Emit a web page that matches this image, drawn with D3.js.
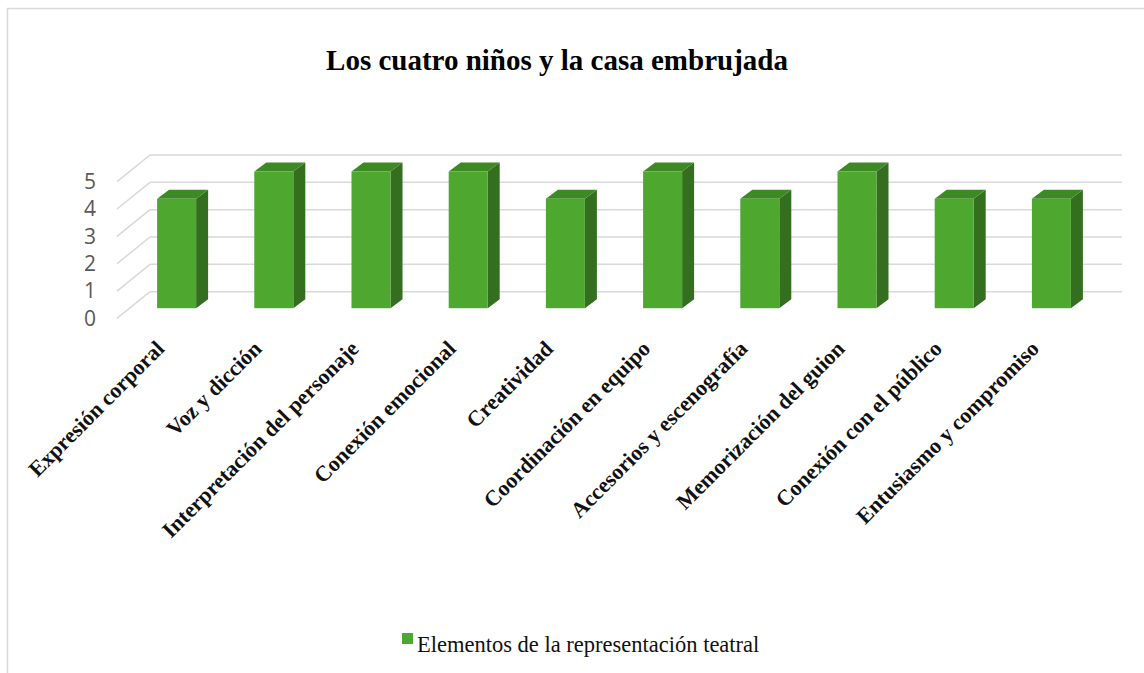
<!DOCTYPE html>
<html>
<head>
<meta charset="utf-8">
<script src="https://cdn.jsdelivr.net/npm/d3@7"></script>
<style>
  body { margin: 0; background: #fff; }
  svg { display: block; }
</style>
</head>
<body>
<svg id="chart"></svg>
<script>
const width = 1144, height = 673;

// Données
const titre = "Los cuatro niños y la casa embrujada";
const serie = "Elementos de la representación teatral";
const categories = [
    "Expresión corporal", "Voz y dicción", "Interpretación del personaje",
    "Conexión emocional", "Creatividad", "Coordinación en equipo",
    "Accesorios y escenografía", "Memorización del guion",
    "Conexión con el público", "Entusiasmo y compromiso"
];
const valeurs = [4, 5, 5, 5, 4, 5, 4, 5, 4, 4];
const ticks = [0, 1, 2, 3, 4, 5];

// Couleurs
const vert = "#4ea72e", vertCote = "#336f1e", vertHaut = "#3d8a25";
const grille = "#d9d9d9";

const svg = d3.select("#chart")
    .attr("width", width)
    .attr("height", height);

// cadre
svg.append("rect")
    .attr("x", 7.5).attr("y", 8.5)
    .attr("width", 1200).attr("height", 700)
    .attr("fill", "#fff")
    .attr("stroke", grille).attr("stroke-width", 1.5);

// échelles (mur du fond)
const x = d3.scaleBand().domain(categories).range([150, 1122]);
const y = d3.scaleLinear().domain([0, 5]).range([291.7, 155]);

// profondeur du mur latéral et position des barres
const depthX = -33, depthY = 26.7;
const barDx = -22, barDy = 16.5;
const barW = 39, sideX = 12, sideY = -9;

// lignes de grille : mur du fond + mur latéral
svg.selectAll(".grid-back")
    .data(ticks)
    .enter().append("line")
    .attr("class", "grid-back")
    .attr("x1", 150).attr("x2", 1122)
    .attr("y1", d => y(d)).attr("y2", d => y(d))
    .attr("stroke", grille).attr("stroke-width", 1.5);

svg.selectAll(".grid-side")
    .data(ticks)
    .enter().append("line")
    .attr("class", "grid-side")
    .attr("x1", 150 + depthX).attr("x2", 150)
    .attr("y1", d => y(d) + depthY).attr("y2", d => y(d))
    .attr("stroke", grille).attr("stroke-width", 1.5);

// étiquettes de l'axe Y
svg.selectAll(".ytick")
    .data(ticks)
    .enter().append("text")
    .attr("class", "ytick")
    .attr("x", 90)
    .attr("y", d => y(d) + depthY)
    .attr("dy", "0.35em")
    .attr("text-anchor", "middle")
    .attr("font-family", "'Open Sans', 'Liberation Sans', sans-serif")
    .attr("font-size", 21)
    .attr("fill", "#595959")
    .text(d => d);

// barres 3D
const barres = svg.selectAll(".bar")
    .data(categories.map((c, i) => ({ cat: c, val: valeurs[i] })))
    .enter().append("g")
    .attr("class", "bar");

const bx = d => x(d.cat) + x.bandwidth() / 2 - barW / 2 + barDx;
const by0 = () => y(0) + barDy;
const by1 = d => y(d.val) + barDy;

barres.append("path")
    .attr("fill", vertCote)
    .attr("d", d => {
        const x0 = bx(d) + barW;
        return `M${x0},${by1(d)}L${x0 + sideX},${by1(d) + sideY}L${x0 + sideX},${by0() + sideY}L${x0},${by0()}Z`;
    });

barres.append("path")
    .attr("fill", vertHaut)
    .attr("d", d => {
        const x0 = bx(d), t = by1(d);
        return `M${x0},${t}L${x0 + sideX},${t + sideY}L${x0 + barW + sideX},${t + sideY}L${x0 + barW},${t}Z`;
    });

barres.append("rect")
    .attr("x", bx)
    .attr("y", by1)
    .attr("width", barW)
    .attr("height", d => by0() - by1(d))
    .attr("fill", vert);

// étiquettes des catégories
svg.selectAll(".xlabel")
    .data(categories)
    .enter().append("text")
    .attr("class", "xlabel")
    .attr("text-anchor", "end")
    .attr("transform", d => {
        const cx = x(d) + x.bandwidth() / 2 + barDx - 11;
        return `translate(${cx},350) rotate(-45)`;
    })
    .attr("font-family", "'Liberation Serif', 'Times New Roman', serif")
    .attr("font-weight", "bold")
    .attr("font-size", 22)
    .attr("fill", "#111")
    .text(d => d);

// titre
svg.append("text")
    .attr("x", 557).attr("y", 70)
    .attr("text-anchor", "middle")
    .attr("font-family", "'Liberation Serif', 'Times New Roman', serif")
    .attr("font-weight", "bold")
    .attr("font-size", 29)
    .attr("fill", "#000")
    .text(titre);

// légende
svg.append("rect")
    .attr("x", 402).attr("y", 633)
    .attr("width", 11).attr("height", 11)
    .attr("fill", vert);

svg.append("text")
    .attr("x", 417).attr("y", 652)
    .attr("font-family", "'Liberation Serif', 'Times New Roman', serif")
    .attr("font-size", 22.5)
    .attr("fill", "#111")
    .text(serie);
</script>
</body>
</html>
